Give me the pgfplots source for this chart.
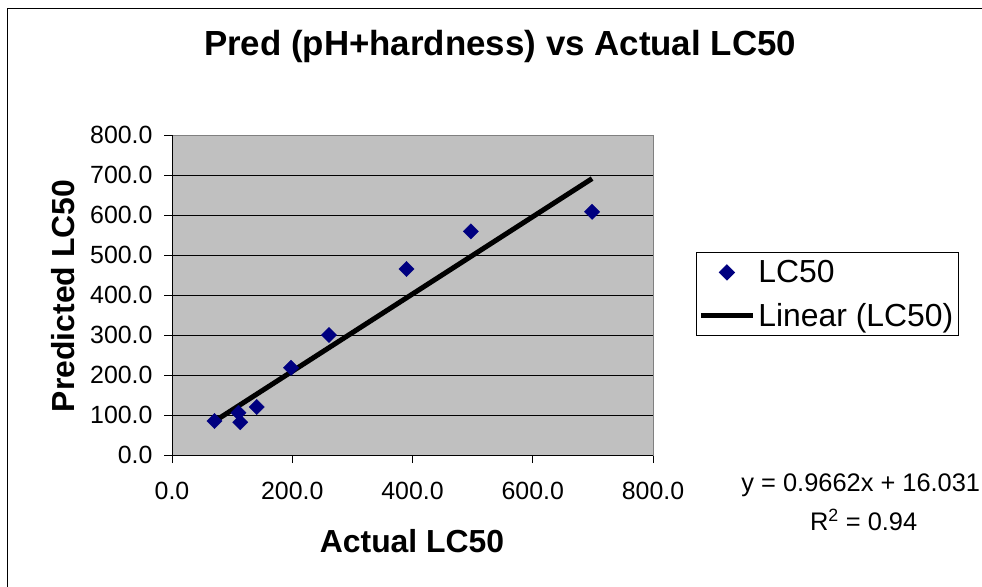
\documentclass[border=0pt]{standalone}
\usepackage{pgfplots}
\pgfplotsset{compat=1.18}
\usepackage{fontspec}
\setmainfont{Liberation Sans}
\definecolor{plotbg}{HTML}{C0C0C0}
\definecolor{navy}{HTML}{000080}
\begin{document}
\begin{tikzpicture}
\useasboundingbox (0,0) rectangle (982bp,587bp);
\draw[black, line width=0.8bp] (7bp,-2bp) -- (7bp,579bp) -- (990bp,579bp);
\begin{axis}[
    at={(172bp,132bp)}, anchor=south west,
    scale only axis, width=481bp, height=320bp,
    xmin=0, xmax=800, ymin=0, ymax=800,
    xtick={0,200,...,800}, ytick={0,100,...,800},
    xtick pos=left, ytick pos=left,
    tick align=outside, major tick length=8bp,
    tick style={black, line width=0.8bp},
    axis background/.style={fill=plotbg},
    axis line style={draw=gray, line width=0.8bp},
    ymajorgrids, grid style={black, line width=0.8bp},
    /pgf/number format/assume math mode=true,
    /pgf/number format/.cd, fixed, fixed zerofill, precision=1, use period, 1000 sep={},
    /pgfplots/.cd,
    ticklabel style={font=\fontsize{25}{30}\selectfont},
    yticklabel style={xshift=-8bp},
    xticklabel style={yshift=-16bp},
    title={Pred (pH+hardness) vs Actual LC50},
    title style={at={(0.682,1.259)}, anchor=center, font=\bfseries\fontsize{35}{40}\selectfont},
    xlabel={Actual LC50},
    xlabel style={at={(0.499,-0.269)}, anchor=center, font=\bfseries\fontsize{32}{36}\selectfont},
    ylabel={Predicted LC50},
    ylabel style={at={(-0.2266,0.497)}, anchor=center, rotate=0, font=\bfseries\fontsize{32}{36}\selectfont},
    legend style={at={(1.0894,0.634)}, anchor=north west, draw=black, line width=0.8bp,
        font=\fontsize{32}{36}\selectfont, inner xsep=2bp, inner ysep=6bp,
        nodes={inner xsep=3bp, inner ysep=2bp}, row sep=15bp},
    legend cell align=left,
    legend image code/.code={\draw[mark repeat=2, mark phase=2, #1] plot coordinates {(0bp,0bp) (26bp,0bp) (52bp,0bp)};},
    clip=false,
]
\addplot[only marks, mark=square*, mark size=5.4bp, color=navy, mark options={rotate=45}] coordinates {
    (70.8,85.0) (110.6,105.8) (113.5,81.7) (141.0,120.0) (198.0,218.0)
    (261.0,300.0) (390.0,465.0) (497.0,559.0) (698.7,608.0)
};
\addlegendentry{LC50}
\addplot[black, line width=5bp, no marks] coordinates {
    (70.8,84.4) (698.7,691.1)
};
\addlegendentry{Linear (LC50)}
\draw[black, line width=0.8bp] (rel axis cs:0,1) -- (rel axis cs:0,0) -- (rel axis cs:1,0);
\node[font=\fontsize{25.5}{30}\selectfont] at (axis description cs:1.432,-0.094) {y = 0.9662x + 16.031};
\node[font=\fontsize{25.5}{30}\selectfont] at (axis description cs:1.438,-0.203) {R\textsuperscript{2} = 0.94};
\end{axis}
\end{tikzpicture}
\end{document}
